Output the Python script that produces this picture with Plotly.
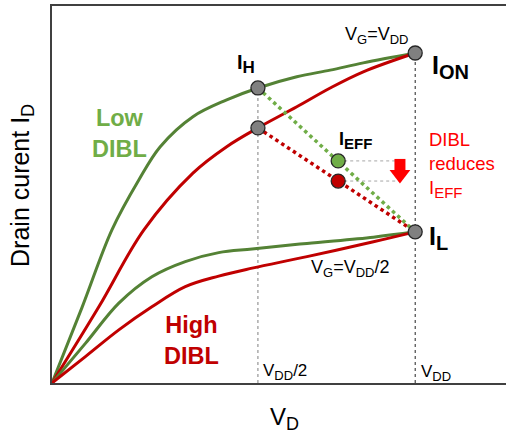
import plotly.graph_objects as go

# ---- data (x in units of V_DD, y in units of I_ON) ----
low_hi_x = [0, 0.083, 0.165, 0.239, 0.298, 0.388, 0.481, 0.567, 0.674, 0.766, 0.857, 1.0]
low_hi_y = [0, 0.230, 0.464, 0.615, 0.716, 0.807, 0.858, 0.894, 0.928, 0.948, 0.970, 1.0]

high_hi_x = [0, 0.129, 0.253, 0.388, 0.481, 0.567, 0.674, 0.766, 0.857, 1.0]
high_hi_y = [0, 0.231, 0.464, 0.636, 0.716, 0.773, 0.837, 0.894, 0.943, 1.0]

low_lo_x = [0, 0.092, 0.184, 0.275, 0.367, 0.459, 0.551, 0.702, 0.885, 1.0]
low_lo_y = [0, 0.120, 0.242, 0.322, 0.368, 0.395, 0.406, 0.423, 0.442, 0.458]

high_lo_x = [0, 0.092, 0.184, 0.275, 0.367, 0.459, 0.551, 0.702, 0.885, 1.0]
high_lo_y = [0, 0.080, 0.161, 0.231, 0.292, 0.324, 0.348, 0.383, 0.428, 0.458]

v_half = 0.567
v_dd = 1.0
i_on = 1.0
i_h_low = 0.894
i_h_high = 0.773
i_l = 0.458
v_eff = 0.788
i_eff_low = 0.673
i_eff_high = 0.612
v_ref_end = 0.958
arrow_tail = 0.679
arrow_neck = 0.642
arrow_head = 0.632

GREEN = "#548235"
LGREEN = "#70ad47"
RED = "#c00000"
FONT = "Arial, Liberation Sans, sans-serif"

fig = go.Figure()

def line(xs, ys, color, width, dash="solid", shape="linear"):
    fig.add_trace(go.Scatter(x=xs, y=ys, mode="lines",
                             line=dict(color=color, width=width, dash=dash, shape=shape),
                             hoverinfo="skip"))

# vertical guide lines
line([v_half, v_half], [0, i_h_low], "#7f7f7f", 1, "dot")
line([v_dd, v_dd], [0, i_on], "#222222", 1, "dot")

# horizontal reference from IEFF points
for yv in (i_eff_low, i_eff_high):
    line([v_eff, v_ref_end], [yv, yv], "#a6a6a6", 1, "dot")

# curves
line(low_hi_x, low_hi_y, GREEN, 3, shape="spline")
line(high_hi_x, high_hi_y, RED, 3, shape="spline")
line(low_lo_x, low_lo_y, GREEN, 3, shape="spline")
line(high_lo_x, high_lo_y, RED, 3, shape="spline")

# dotted effective-current lines
line([v_half, v_dd], [i_h_low, i_l], LGREEN, 3.5, "dot")
line([v_half, v_dd], [i_h_high, i_l], RED, 3.5, "dot")

# red arrow (body + head)
line([v_ref_end, v_ref_end], [arrow_tail, arrow_neck], "#ff0000", 11)
fig.add_trace(go.Scatter(x=[v_ref_end], y=[arrow_head], mode="markers",
                         marker=dict(symbol="triangle-down", size=18, color="#ff0000",
                                     line=dict(width=0)), hoverinfo="skip"))

# markers
mk_line = dict(color="#262626", width=1.3)
fig.add_trace(go.Scatter(x=[v_half, v_half, v_dd, v_dd], y=[i_h_low, i_h_high, i_on, i_l],
                         mode="markers", marker=dict(size=14, color="#808080", line=mk_line),
                         hoverinfo="skip"))
fig.add_trace(go.Scatter(x=[v_eff], y=[i_eff_low], mode="markers",
                         marker=dict(size=14, color=LGREEN, line=mk_line), hoverinfo="skip"))
fig.add_trace(go.Scatter(x=[v_eff], y=[i_eff_high], mode="markers",
                         marker=dict(size=14, color=RED, line=mk_line), hoverinfo="skip"))

ann = []
def A(x, y, text, size, color="black", **kw):
    d = dict(x=x, y=y, text=text, showarrow=False, font=dict(family=FONT, size=size, color=color))
    d.update(kw)
    ann.append(d)

def sub(t, px):
    return "<sub><span style='font-size:%dpx'>%s</span></sub>" % (px, t)

A(0.187, 0.755, "<b>Low<br>DIBL</b>", 23.5, LGREEN)
A(0.383, 0.130, "<b>High<br>DIBL</b>", 23.5, RED)
A(0.535, 0.968, "<b>I" + sub("H", 17) + "</b>", 20)
A(1.096, 0.958, "<b>I" + sub("ON", 20) + "</b>", 25)
A(0.835, 0.734, "<b>I" + sub("EFF", 15) + "</b>", 18)
A(1.063, 0.440, "<b>I" + sub("L", 20) + "</b>", 25)
A(0.893, 1.052, "V" + sub("G", 13) + "=V" + sub("DD", 13), 18)
A(0.821, 0.348, "V" + sub("G", 13) + "=V" + sub("DD", 13) + "/2", 18)
A(0.642, 0.033, "V" + sub("DD", 13) + "/2", 17)
A(1.058, 0.030, "V" + sub("DD", 13), 17)
A(1.033, 0.661, "DIBL<br>reduces<br>I" + sub("EFF", 15), 18.5, "#ff0000",
  xanchor="left", align="left")
# axis titles
A(-0.106, 0.525, "Drain curent I" + sub("D", 18), 25, xref="paper", yref="paper", textangle=-90)
A(0.513, -0.140, "V" + sub("D", 18), 24, xref="paper", yref="paper")

fig.update_layout(
    width=506, height=434, showlegend=False,
    margin=dict(l=52, r=0, t=6, b=51),
    paper_bgcolor="white", plot_bgcolor="white",
    annotations=ann,
    xaxis=dict(range=[0, 1.25], showgrid=False, zeroline=False, showticklabels=False, ticks="",
               showline=True, linecolor="#404040", linewidth=2, mirror=True, fixedrange=True),
    yaxis=dict(range=[0, 1.1424], showgrid=False, zeroline=False, showticklabels=False, ticks="",
               showline=True, linecolor="#404040", linewidth=2, fixedrange=True),
)
fig.write_html("out.html", config={"displayModeBar": False},
               post_script="document.body.style.margin='0px';document.body.style.overflow='hidden';")
